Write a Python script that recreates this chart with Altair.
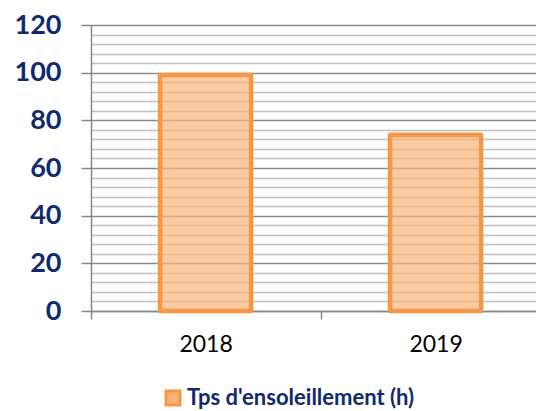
import altair as alt
import pandas as pd

years = ["2018", "2019"]
sunshine_hours = [99, 74]
series_name = "Tps d'ensoleillement (h)"
y_ticks = list(range(0, 121, 4))

df = pd.DataFrame({"annee": years, "heures": sunshine_hours, "serie": [series_name] * len(years)})

ORANGE = "#F79646"
FILL = "#F9B377"
NAVY = "#102A6B"

bars = alt.Chart(df).mark_bar(
    fill=FILL, fillOpacity=0.7, strokeWidth=4.5, strokeJoin="round"
).encode(
    x=alt.X(
        "annee:N",
        title=None,
        sort=years,
        scale=alt.Scale(paddingInner=0.604, paddingOuter=0.2694, align=0.557),
        axis=alt.Axis(
            labelAngle=0, labelFont="Lato", labelFontSize=23, labelColor="#000000",
            labelPadding=14, bandPosition=0, tickExtra=False, tickOffset=-69,
            labelOffset=69, tickSize=8, tickColor="#868686",
            tickWidth=1.5, domainColor="#868686", domainWidth=1.5, grid=False,
        ),
    ),
    y=alt.Y(
        "heures:Q",
        title=None,
        scale=alt.Scale(domain=[0, 120], nice=False),
        axis=alt.Axis(
            values=y_ticks,
            labelExpr="datum.value % 20 === 0 ? datum.label : ''",
            labelFont="Lato", labelFontWeight="bold", labelFontSize=27, labelColor=NAVY,
            labelPadding=20, tickSize=10, tickColor="#868686", tickWidth=1.5,
            tickOpacity=alt.condition("datum.value % 20 === 0", alt.value(1), alt.value(0)),
            domainColor="#868686", domainWidth=1.5,
            grid=True, gridWidth=1.5,
            gridColor=alt.condition("datum.value % 20 === 0", alt.value("#8A8A8A"), alt.value("#C0C0C0")),
        ),
    ),
    stroke=alt.Stroke(
        "serie:N",
        scale=alt.Scale(range=[ORANGE]),
        legend=alt.Legend(
            title=None, orient="none", legendX=71, legendY=362,
            symbolType="square", symbolSize=196,
            symbolStrokeWidth=3, labelFont="Lato", labelFontWeight="bold",
            labelFontSize=22, labelColor=NAVY, labelOffset=3, labelLimit=500,
        ),
    ),
)

chart = bars.properties(
    width=445, height=286,
    autosize=alt.AutoSizeParams(type="none"),
    padding={"left": 83, "top": 17, "right": 0, "bottom": 100},
).configure_view(stroke=None)

chart.save("out.html", embed_options={"renderer": "svg", "actions": False})
